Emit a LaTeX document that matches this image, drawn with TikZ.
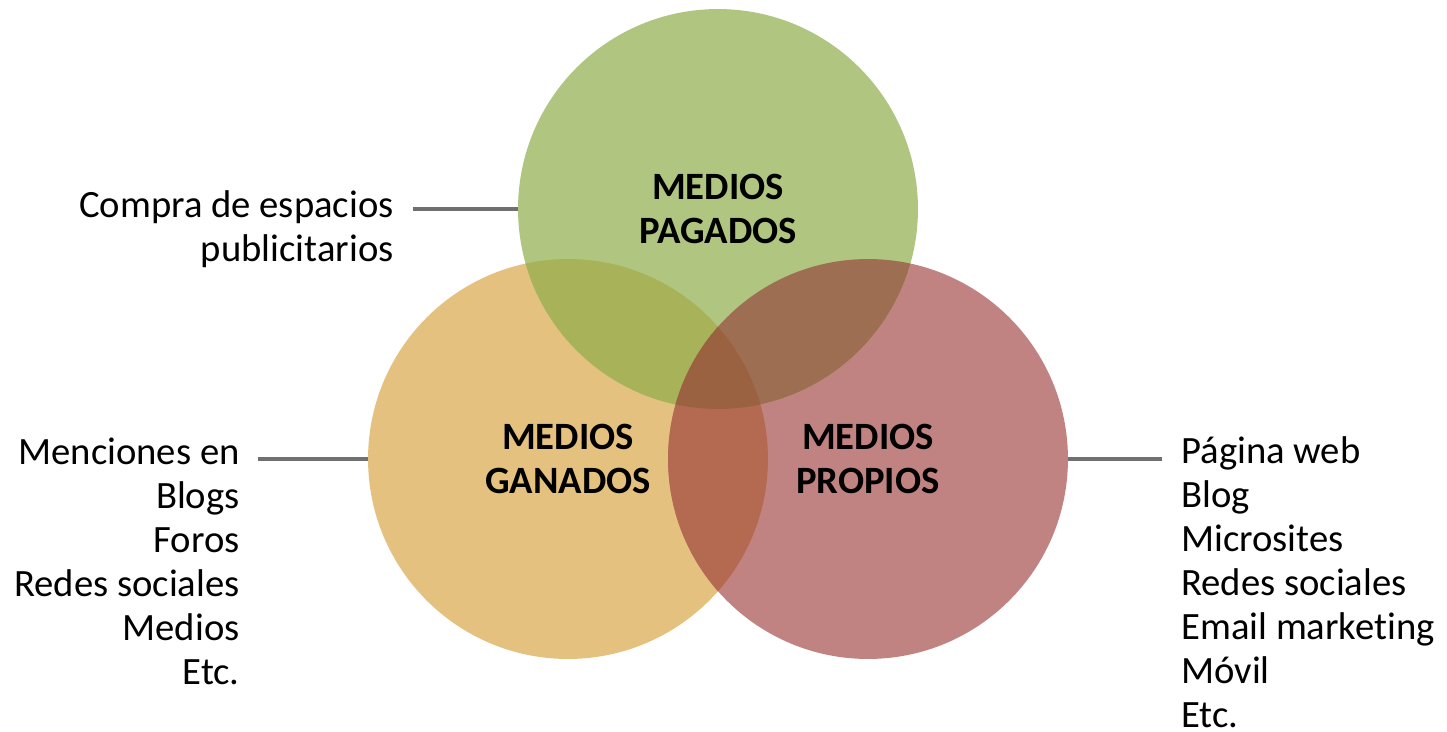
\documentclass[tikz,border=0pt]{standalone}
\usepackage{fontspec}
\setmainfont{Carlito}[Ligatures=NoCommon]
\usepackage{tikz}

\definecolor{pagado}{HTML}{B0C57F}
\definecolor{ganado}{HTML}{E5C17F}
\definecolor{propio}{HTML}{C08382}
\definecolor{pagadoganado}{HTML}{A8B258}
\definecolor{pagadopropio}{HTML}{9E6E52}
\definecolor{ganadopropio}{HTML}{B36A50}
\definecolor{todos}{HTML}{9A6241}
\definecolor{guiagris}{HTML}{707070}

\begin{document}
\begin{tikzpicture}[x=0.02cm,y=-0.02cm,
    medio/.style={circle,minimum size=8cm,inner sep=0pt,align=center,
        font=\fontsize{22}{25}\selectfont\bfseries},
    lista/.style={inner sep=0pt,font=\fontsize{22}{25}\selectfont},
    guia/.style={draw=guiagris,line width=1.9pt}]
        \useasboundingbox (0,0) rectangle (1447,731);
        % los tres circulos
        \node[medio,fill=ganado] (ganados) at (568,459) {MEDIOS\\GANADOS};
        \node[medio,fill=propio] (propios) at (868,459) {MEDIOS\\PROPIOS};
        \node[medio,fill=pagado] (pagados) at (718,209) {MEDIOS\\PAGADOS};
        % intersecciones
        \begin{scope}
            \clip (pagados.center) circle (4cm);
            \fill[pagadoganado] (ganados.center) circle (4cm);
            \fill[pagadopropio] (propios.center) circle (4cm);
        \end{scope}
        \begin{scope}
            \clip (ganados.center) circle (4cm);
            \fill[ganadopropio] (propios.center) circle (4cm);
            \clip (pagados.center) circle (4cm);
            \fill[todos] (propios.center) circle (4cm);
        \end{scope}
        % textos (base = ultima linea)
        \node[lista,anchor=base east,align=right] (compra) at (394,261)
            {Compra de espacios\\publicitarios};
        \node[lista,anchor=base east,align=right] (ganadoslista) at (240,684)
            {Menciones en\\Blogs\\Foros\\Redes sociales\\Medios\\Etc.};
        \node[lista,anchor=base west,align=left] (propioslista) at (1181,727)
            {P\'agina web\\Blog\\Microsites\\Redes sociales\\Email marketing\\M\'ovil\\Etc.};
        % guias
        \coordinate (compraguia) at (413,209);
        \coordinate (ganadosguia) at (258,459);
        \coordinate (propiosguia) at (1162,459);
        \draw[guia] (compraguia) -- (pagados.west);
        \draw[guia] (ganadosguia) -- (ganados.west);
        \draw[guia] (propios.east) -- (propiosguia);
\end{tikzpicture}
\end{document}
